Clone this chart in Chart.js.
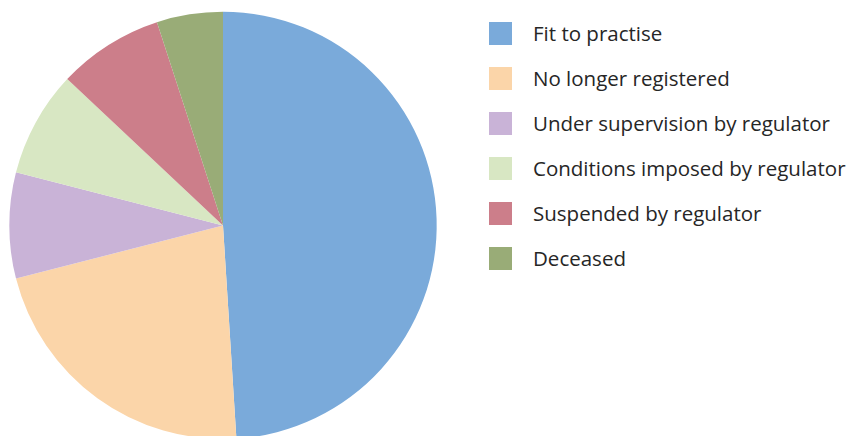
<!DOCTYPE html>
<html>
<head>
<meta charset="utf-8">
<script src="https://cdn.jsdelivr.net/npm/chart.js@4"></script>
<style>
  html, body { margin: 0; padding: 0; width: 849px; height: 436px; overflow: hidden; background: #ffffff; }
  #pieWrap { position: absolute; left: 0; top: 0; width: 446px; height: 452px; }
  #legend { position: absolute; left: 0; top: 0; }
  .item { position: absolute; left: 489px; height: 23px; white-space: nowrap; }
  .box { position: absolute; left: 0; top: 0; width: 23px; height: 23px; }
  .lbl { position: absolute; left: 44px; top: 0; line-height: 23px; font-family: "Open Sans", sans-serif; font-size: 20.5px; color: #262626; }
</style>
</head>
<body>
<div id="pieWrap"><canvas id="c"></canvas></div>
<div id="legend"></div>
<script>
const categories = [
  "Fit to practise",
  "No longer registered",
  "Under supervision by regulator",
  "Conditions imposed by regulator",
  "Suspended by regulator",
  "Deceased"
];
const values = [49, 22, 8, 8, 8, 5];
const colors = ["#7AAADA", "#FBD5A9", "#C9B3D7", "#D8E7C3", "#CC7E8A", "#99AC77"];

const chart = new Chart(document.getElementById('c'), {
  type: 'pie',
  data: {
    labels: categories,
    datasets: [{
      data: values,
      backgroundColor: colors,
      borderWidth: 0
    }]
  },
  options: {
    responsive: true,
    maintainAspectRatio: false,
    animation: false,
    layout: { padding: { left: 9.3, right: 9.3, top: 11.7, bottom: 12.9 } },
    plugins: {
      legend: { display: false },
      tooltip: { enabled: false }
    }
  }
});

const legend = document.getElementById('legend');
categories.forEach((name, i) => {
  const item = document.createElement('div');
  item.className = 'item';
  item.style.top = (21.7 + 45 * i) + 'px';
  const box = document.createElement('div');
  box.className = 'box';
  box.style.background = colors[i];
  const lbl = document.createElement('div');
  lbl.className = 'lbl';
  lbl.textContent = name;
  item.appendChild(box);
  item.appendChild(lbl);
  legend.appendChild(item);
});
</script>
</body>
</html>
